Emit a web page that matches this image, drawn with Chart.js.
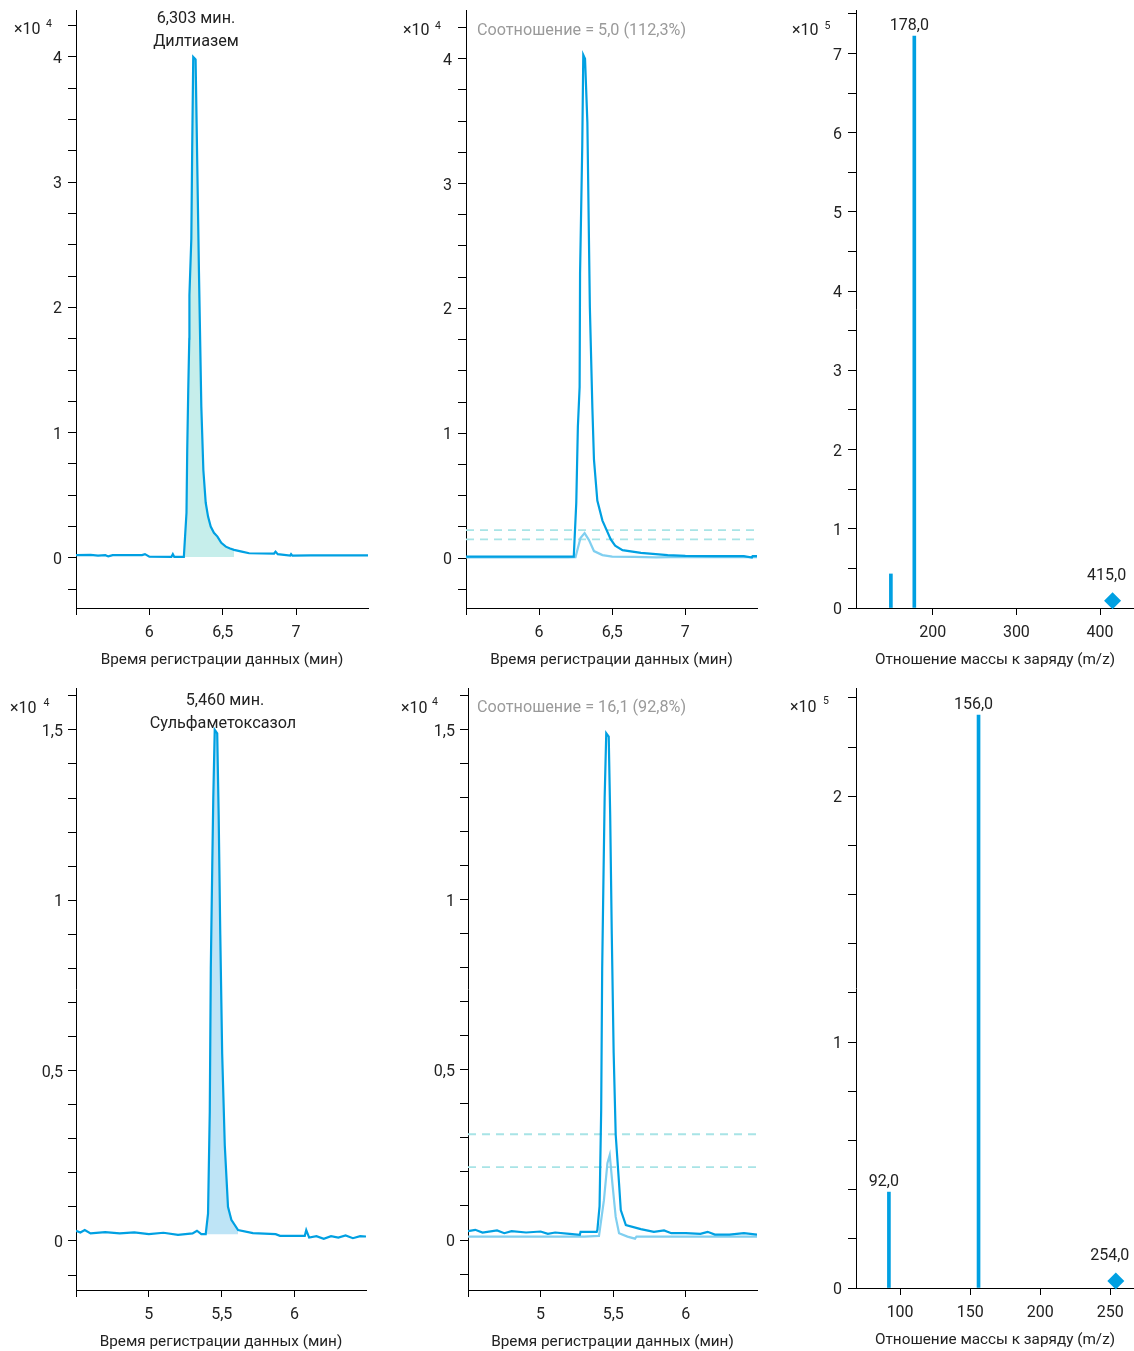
<!DOCTYPE html>
<html>
<head>
<meta charset="utf-8">
<script src="https://cdn.jsdelivr.net/npm/chart.js@4.4.1/dist/chart.umd.min.js"></script>
<style>
  html, body { margin: 0; padding: 0; background: #fff; overflow: hidden; }
  #wrap { position: relative; width: 1134px; height: 1351px; }
  #wrap canvas { position: absolute; }
</style>
</head>
<body>
<div id="wrap"></div>
<script>
// -- data ----------------------------------------------------------------

// Дилтиазем, quantifier (top-left)
const dilT = [5.50, 5.60, 5.65, 5.70, 5.72, 5.75, 5.95, 5.97, 6.00, 6.15, 6.16, 6.17, 6.235,
  6.253, 6.258, 6.265, 6.272, 6.273, 6.286, 6.292, 6.299, 6.315, 6.322, 6.338, 6.354, 6.368,
  6.384, 6.40, 6.418, 6.44, 6.464, 6.49, 6.521, 6.55, 6.577, 6.63, 6.68, 6.85, 6.86, 6.875,
  6.96, 6.966, 6.975, 7.1, 7.3, 7.49];
const dilV = [0.022, 0.024, 0.018, 0.022, 0.012, 0.022, 0.022, 0.03, 0.01, 0.008, 0.03, 0.008, 0.008,
  0.36, 0.86, 1.34, 1.75, 2.1, 2.55, 3.28, 4.0, 3.98, 3.47, 2.28, 1.21, 0.70,
  0.44, 0.33, 0.25, 0.2, 0.17, 0.12, 0.09, 0.075, 0.064, 0.05, 0.037, 0.035, 0.05, 0.03,
  0.018, 0.03, 0.018, 0.02, 0.02, 0.02];
const dilInt = [6.235, 6.577];

// Дилтиазем, quantifier + qualifier overlay (top-middle)
const dilQuanT = [5.5, 5.8, 6.0, 6.2, 6.237, 6.254, 6.265, 6.277, 6.280, 6.295, 6.302, 6.314,
  6.330, 6.347, 6.364, 6.375, 6.398, 6.433, 6.49, 6.52, 6.57, 6.696, 6.879, 7.0, 7.2, 7.4,
  7.455, 7.46, 7.49];
const dilQuanV = [0.012, 0.012, 0.012, 0.012, 0.012, 0.44, 1.05, 1.37, 2.28, 3.3, 4.03, 4.0,
  3.49, 2.01, 1.21, 0.79, 0.46, 0.30, 0.15, 0.1, 0.064, 0.042, 0.024, 0.018, 0.016, 0.016,
  0.004, 0.016, 0.016];
const dilQualT = [5.5, 5.9, 6.2, 6.249, 6.283, 6.311, 6.341, 6.375, 6.433, 6.5, 6.65, 6.8, 7.0, 7.2, 7.49];
const dilQualV = [0.006, 0.006, 0.006, 0.008, 0.16, 0.2, 0.144, 0.056, 0.024, 0.012, 0.01, 0.006, 0.01, 0.008, 0.008];
const dilLimits = [0.224, 0.15];

// Сульфаметоксазол, quantifier (bottom-left)
const sulT = [4.5, 4.53, 4.56, 4.6, 4.7, 4.8, 4.9, 5.0, 5.1, 5.2, 5.3, 5.33, 5.36, 5.39,
  5.406, 5.418, 5.425, 5.435, 5.442, 5.452, 5.469, 5.479, 5.49, 5.503, 5.521, 5.543, 5.566,
  5.612, 5.714, 5.87, 5.9, 6.07, 6.08, 6.1, 6.15, 6.2, 6.25, 6.3, 6.35, 6.4, 6.45, 6.49];
const sulV = [0.03, 0.025, 0.032, 0.022, 0.026, 0.022, 0.025, 0.02, 0.024, 0.018, 0.022, 0.03, 0.02, 0.02,
  0.08, 0.38, 0.8, 1.1, 1.3, 1.5, 1.49, 1.25, 0.9, 0.55, 0.28, 0.1, 0.062,
  0.032, 0.023, 0.02, 0.015, 0.015, 0.032, 0.01, 0.014, 0.006, 0.014, 0.01, 0.016, 0.008, 0.014, 0.013];
const sulInt = [5.39, 5.623];

// Сульфаметоксазол, quantifier + qualifier overlay (bottom-middle)
const sulQuanT = [4.5, 4.55, 4.6, 4.7, 4.75, 4.8, 4.9, 5.0, 5.05, 5.1, 5.2, 5.27, 5.275, 5.386,
  5.391, 5.406, 5.417, 5.424, 5.434, 5.441, 5.452, 5.469, 5.479, 5.490, 5.503, 5.517, 5.540,
  5.552, 5.587, 5.69, 5.78, 5.85, 5.9, 6.0, 6.1, 6.15, 6.2, 6.3, 6.4, 6.49];
const sulQuanV = [0.026, 0.03, 0.022, 0.028, 0.02, 0.026, 0.022, 0.025, 0.018, 0.022, 0.018, 0.015, 0.024, 0.024,
  0.03, 0.1, 0.38, 0.8, 1.1, 1.3, 1.49, 1.48, 1.25, 0.9, 0.55, 0.31, 0.167,
  0.088, 0.044, 0.032, 0.024, 0.028, 0.02, 0.02, 0.018, 0.024, 0.016, 0.016, 0.02, 0.016];
const sulQualT = [4.5, 4.8, 5.1, 5.3, 5.402, 5.436, 5.46, 5.476, 5.494, 5.517, 5.54, 5.598, 5.65, 5.66, 5.7, 5.9, 6.1, 6.3, 6.49];
const sulQualV = [0.01, 0.01, 0.01, 0.01, 0.012, 0.117, 0.226, 0.25, 0.167, 0.068, 0.02, 0.01, 0.004, 0.01, 0.01, 0.01, 0.01, 0.01, 0.01];
const sulLimits = [0.311, 0.214];

// spectra (m/z, intensity x10^5); only some stems carry a label
const dilMz = [150, 178];
const dilInt5 = [0.43, 7.22];
const dilLabelled = [178];
const dilPrec = [415, 0.09];
const sulMz = [92, 156];
const sulInt5 = [0.39, 2.33];
const sulLabelled = [92, 156];
const sulPrec = [254, 0.028];

// -- styling -------------------------------------------------------------

const MAIN = '#00A0E2';
const QUAL = '#80CFF0';
const DASH = '#A8E4E6';
const FILL_DIL = '#C6EEEB';
const FILL_SUL = '#BEE4F6';
const INK = '#222';
const GREY = '#9A9A9A';
const FONT = 'Roboto';
const NOTE_SIZE = 16.2;
const X_TITLE_RT = 'Время регистрации данных (мин)';
const X_TITLE_MZ = 'Отношение массы к заряду (m/z)';
const TOP_PAD = 16;

Chart.defaults.font.family = FONT;
Chart.defaults.animation = false;

function pts(ts, vs) { return ts.map((t, i) => ({ x: t, y: vs[i] })); }
function fmt(v) { return String(Math.round(v * 1000) / 1000).replace('.', ','); }
function isMult(v, s) { const q = v / s; return Math.abs(q - Math.round(q)) < 1e-6; }

// ticks on exact multiples of step only
function stepTicks(step) {
  return s => {
    const out = [];
    for (let k = Math.ceil(s.min / step - 1e-9); k * step <= s.max + 1e-9; k++) {
      out.push({ value: Math.round(k * step * 1e6) / 1e6 });
    }
    s.ticks = out;
  };
}

function axisX(min, max, step, title, hideFirst) {
  return {
    type: 'linear', min, max, offset: false,
    border: { display: true, color: '#000', width: 1 },
    grid: { display: true, drawOnChartArea: false, drawTicks: true, tickLength: 7, color: '#000', offset: false },
    ticks: {
      stepSize: step, padding: 8.5, color: INK, autoSkip: false, maxRotation: 0,
      font: { size: 16 },
      callback: v => (hideFirst && Math.abs(v - min) < 1e-6) ? '' : fmt(v),
    },
    title: { display: true, text: title, color: INK, font: { size: 15.3 }, padding: { top: 0, bottom: 0.8 } },
    afterBuildTicks: stepTicks(step),
    afterFit: s => { s.height = 62; },
  };
}

function axisY(min, max, step, labelStep, pad) {
  return {
    type: 'linear', min, max,
    border: { display: true, color: '#000', width: 1 },
    grid: { display: true, drawOnChartArea: false, drawTicks: true, tickLength: 8, color: '#000' },
    ticks: {
      stepSize: step, padding: pad, color: INK, autoSkip: false, labelOffset: 2,
      font: { size: 16 },
      callback: v => isMult(v, labelStep) ? fmt(v) : '',
    },
    afterBuildTicks: stepTicks(step),
    afterFit: s => { s.width = 70; },
  };
}

// texts drawn on top: {text, dx, dy, size, color, align} relative to chart area,
// or anchored to data with {at: [x, y]}
function notesPlugin(items) {
  return {
    id: 'notes',
    afterDraw(chart) {
      const { ctx, chartArea: a, scales } = chart;
      ctx.save();
      ctx.textBaseline = 'middle';
      items.forEach(it => {
        let x = a.left + (it.dx || 0);
        let y = a.top + (it.dy || 0);
        if (it.at) {
          x = scales.x.getPixelForValue(it.at[0]) + (it.dx || 0);
          y = scales.y.getPixelForValue(it.at[1]) + (it.dy || 0);
        }
        ctx.font = (it.size || NOTE_SIZE) + 'px ' + FONT;
        ctx.fillStyle = it.color || INK;
        ctx.textAlign = it.align || 'left';
        ctx.fillText(it.text, x, y);
      });
      ctx.restore();
    },
  };
}

function expNotes(pow, dx, dy, sdx, sdy) {
  return [
    { text: '×10', dx, dy, size: 16 },
    { text: String(pow), dx: sdx, dy: sdy, size: 10.5 },
  ];
}

function makeCanvas(box) {
  const cv = document.createElement('canvas');
  cv.width = box.r - box.l + 70 + box.padR;
  cv.height = box.b - box.t + TOP_PAD + 62;
  cv.style.left = (box.l - 70) + 'px';
  cv.style.top = (box.t - TOP_PAD) + 'px';
  document.getElementById('wrap').appendChild(cv);
  return cv;
}

function baseOptions(box) {
  return {
    responsive: false,
    events: [],
    layout: { autoPadding: false, padding: { left: 0, top: TOP_PAD, right: box.padR, bottom: 0 } },
    plugins: { legend: { display: false }, tooltip: { enabled: false } },
  };
}

function lineDs(data, color, width) {
  return { data, borderColor: color, borderWidth: width || 2.2, pointRadius: 0, tension: 0, fill: false };
}

function chromChart(box, xr, yr, datasets, notes) {
  return new Chart(makeCanvas(box), {
    type: 'line',
    data: { datasets },
    options: {
      ...baseOptions(box),
      scales: {
        x: axisX(xr[0], xr[1], xr[2], X_TITLE_RT, true),
        y: axisY(yr[0], yr[1], yr[2], yr[3], yr[4]),
      },
    },
    plugins: [notesPlugin(notes)],
  });
}

function spectrumChart(box, xr, yr, mz, inten, prec, notes) {
  return new Chart(makeCanvas(box), {
    type: 'bar',
    data: {
      datasets: [
        { type: 'bar', data: pts(mz, inten), backgroundColor: MAIN, borderWidth: 0, barThickness: 3 },
        { type: 'scatter', data: [{ x: prec[0], y: prec[1] }], backgroundColor: MAIN, borderWidth: 0,
          pointStyle: 'rectRot', pointRadius: 8.5, clip: false },
      ],
    },
    options: {
      ...baseOptions(box),
      scales: {
        x: axisX(xr[0], xr[1], xr[2], X_TITLE_MZ, false),
        y: axisY(yr[0], yr[1], yr[2], yr[3], yr[4]),
      },
    },
    plugins: [notesPlugin(notes)],
  });
}

function mzText(m) { return m.toFixed(1).replace('.', ','); }

function stemLabels(mz, inten, labelled, prec) {
  const out = [];
  mz.forEach((m, i) => {
    if (labelled.includes(m)) out.push({ text: mzText(m), at: [m, inten[i]], dx: -5, dy: -10, align: 'center', size: 16 });
  });
  out.push({ text: mzText(prec[0]), at: prec, dx: -6, dy: -25, align: 'center', size: 16 });
  return out;
}

// -- panels --------------------------------------------------------------

// top-left: Дилтиазем with integrated area
const dilPts = pts(dilT, dilV);
chromChart(
  { l: 76, t: 10, r: 368, b: 608, padR: 8 },
  [5.5, 7.49, 0.5],
  [-0.4, 4.375, 0.25, 1, 6],
  [
    lineDs(dilPts, MAIN),
    { data: dilPts.filter(p => p.x >= dilInt[0] && p.x <= dilInt[1]), borderWidth: 0, pointRadius: 0,
      backgroundColor: FILL_DIL, fill: { value: 0.008 }, tension: 0 },
  ],
  expNotes(4, -62, 20, -30, 14).concat([
    { text: '6,303 мин.', dx: 120, dy: 9, align: 'center' },
    { text: 'Дилтиазем', dx: 120, dy: 31.5, align: 'center' },
  ])
);

// top-middle: quantifier / qualifier overlay
chromChart(
  { l: 466, t: 10, r: 757, b: 608, padR: 8 },
  [5.5, 7.49, 0.5],
  [-0.4, 4.39, 0.25, 1, 6],
  [
    lineDs(pts(dilQuanT, dilQuanV), MAIN),
    lineDs(pts(dilQualT, dilQualV), QUAL),
    ...dilLimits.map(v => ({ data: [{ x: 5.5, y: v }, { x: 7.49, y: v }], borderColor: DASH, borderWidth: 1.8,
      borderDash: [8, 6], pointRadius: 0, fill: false })),
  ],
  expNotes(4, -63, 21, -31, 16).concat([
    { text: 'Соотношение = 5,0 (112,3%)', dx: 11, dy: 21, color: GREY },
  ])
);

// top-right: spectrum
spectrumChart(
  { l: 856, t: 10, r: 1134, b: 608, padR: 0 },
  [108.3, 440.6, 100],
  [0, 7.55, 0.5, 1, 6],
  dilMz, dilInt5, dilPrec,
  expNotes(5, -64, 21, -31.5, 16).concat(stemLabels(dilMz, dilInt5, dilLabelled, dilPrec))
);

// bottom-left: Сульфаметоксазол with integrated area
const sulPts = pts(sulT, sulV);
chromChart(
  { l: 76, t: 688, r: 366, b: 1290, padR: 8 },
  [4.5, 6.49, 0.5],
  [-0.144, 1.623, 0.1, 0.5, 5],
  [
    lineDs(sulPts, MAIN),
    { data: sulPts.filter(p => p.x >= sulInt[0] && p.x <= sulInt[1]), borderWidth: 0, pointRadius: 0,
      backgroundColor: FILL_SUL, fill: { value: 0.02 }, tension: 0 },
  ],
  expNotes(4, -66, 21, -32.5, 15).concat([
    { text: '5,460 мин.', dx: 149, dy: 13, align: 'center' },
    { text: 'Сульфаметоксазол', dx: 147, dy: 36, align: 'center' },
  ])
);

// bottom-middle: quantifier / qualifier overlay
chromChart(
  { l: 468, t: 688, r: 757, b: 1290, padR: 8 },
  [4.5, 6.49, 0.5],
  [-0.147, 1.623, 0.1, 0.5, 5],
  [
    lineDs(pts(sulQuanT, sulQuanV), MAIN),
    lineDs(pts(sulQualT, sulQualV), QUAL),
    ...sulLimits.map(v => ({ data: [{ x: 4.5, y: v }, { x: 6.49, y: v }], borderColor: DASH, borderWidth: 1.8,
      borderDash: [8, 6], pointRadius: 0, fill: false })),
  ],
  expNotes(4, -67, 21, -36, 14).concat([
    { text: 'Соотношение = 16,1 (92,8%)', dx: 9, dy: 20, color: GREY },
  ])
);

// bottom-right: spectrum
spectrumChart(
  { l: 856, t: 688, r: 1134, b: 1288, padR: 0 },
  [68.5, 267, 50],
  [0, 2.44, 0.2, 1, 6],
  sulMz, sulInt5, sulPrec,
  expNotes(5, -66, 20, -33, 13).concat(stemLabels(sulMz, sulInt5, sulLabelled, sulPrec))
);
</script>
</body>
</html>
